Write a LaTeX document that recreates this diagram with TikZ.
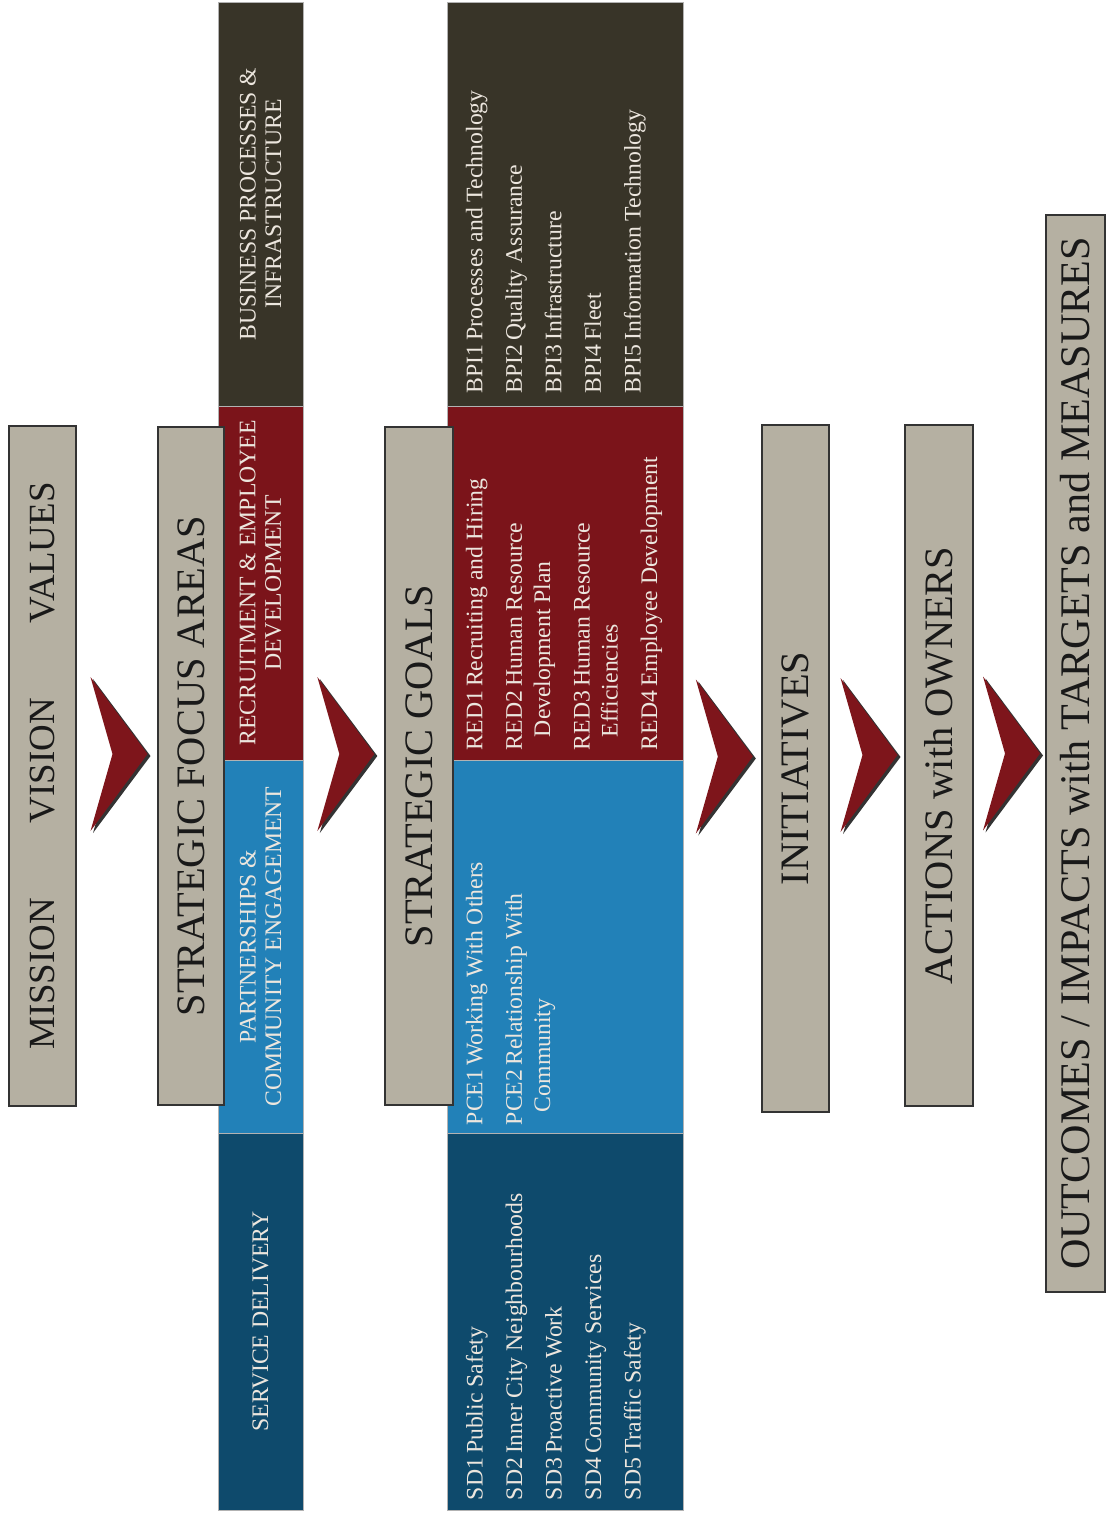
\documentclass[tikz,border=0pt]{standalone}
\usepackage{fontspec}
\setmainfont{Liberation Serif}
\usetikzlibrary{calc}
\definecolor{boxgray}{RGB}{181,176,162}
\definecolor{colbpi}{RGB}{56,52,40}
\definecolor{colred}{RGB}{123,20,26}
\definecolor{colpce}{RGB}{34,129,184}
\definecolor{colsd}{RGB}{14,74,108}
\definecolor{chevred}{RGB}{126,21,27}
\definecolor{txtlight}{RGB}{236,230,222}

\begin{document}
\begin{tikzpicture}[x=0.02cm,y=-0.02cm,line join=miter,every node/.style={inner sep=0pt},
  gbox/.style={draw=black!80,line width=0.85pt,fill=boxgray,rotate=90,text=black!90,font=\fontsize{23}{26}\selectfont},
  area/.style={draw=gray!60,line width=0.5pt,rotate=90,text=txtlight,align=center,font=\fontsize{13.5}{14.5}\selectfont},
  goals/.style={rotate=90,anchor=north west,align=left,text=txtlight,font=\fontsize{13.5}{16}\selectfont},
  chev/.pic={
    \fill[black!80] (-26,-75) -- (31.5,2) -- (-26,79) -- (-4,2) -- cycle;
    \fill[chevred] (-28.5,-77) -- (28.5,0) -- (-28.5,77) -- (-6.5,0) -- cycle;
  }]
  \def\px{0.02cm}
  \useasboundingbox (0,0) rectangle (1109,1520);
  \node[area,fill=colbpi,minimum width=404*\px,minimum height=85*\px] (fbpi) at (260.5,204) {BUSINESS PROCESSES \&\\INFRASTRUCTURE};
  \node[area,fill=colred,minimum width=354*\px,minimum height=85*\px] (fred) at (260.5,583) {RECRUITMENT \& EMPLOYEE\\DEVELOPMENT};
  \node[area,fill=colpce,minimum width=373*\px,minimum height=85*\px] (fpce) at (260.5,946.5) {PARTNERSHIPS \&\\COMMUNITY ENGAGEMENT};
  \node[area,fill=colsd,minimum width=377*\px,minimum height=85*\px] (fsd) at (260.5,1321.5) {SERVICE DELIVERY};
  \node[area,fill=colbpi,minimum width=404*\px,minimum height=236*\px] (gbpi) at (565,204) {};
  \node[area,fill=colred,minimum width=354*\px,minimum height=236*\px] (gred) at (565,583) {};
  \node[area,fill=colpce,minimum width=373*\px,minimum height=236*\px] (gpce) at (565,946.5) {};
  \node[area,fill=colsd,minimum width=377*\px,minimum height=236*\px] (gsd) at (565,1321.5) {};
  \node[goals] (lbpi) at ($(gbpi.north west)+(19,-13)$) {BPI1\,Processes and Technology\\[6.5pt]BPI2\,Quality Assurance\\[6.5pt]BPI3\,Infrastructure\\[6.5pt]BPI4\,Fleet\\[6.5pt]BPI5\,Information Technology};
  \node[goals] (lred) at ($(gred.north west)+(19,-10)$) {RED1\,Recruiting and Hiring\\[6.5pt]RED2\,Human Resource\\\hspace*{0.55em}Development Plan\\[6.5pt]RED3\,Human Resource\\\hspace*{0.55em}Efficiencies\\[6.5pt]RED4\,Employee Development};
  \node[goals] (lpce) at ($(gpce.north west)+(19,-8)$) {PCE1\,Working With Others\\[6.5pt]PCE2\,Relationship With\\\hspace*{0.55em}Community};
  \node[goals] (lsd) at ($(gsd.north west)+(19,-10)$) {SD1\,Public Safety\\[6.5pt]SD2\,Inner City Neighbourhoods\\[6.5pt]SD3\,Proactive Work\\[6.5pt]SD4\,Community Services\\[6.5pt]SD5\,Traffic Safety};
  \node[gbox,minimum width=680*\px,minimum height=67*\px,font=\fontsize{21}{24}\selectfont] (mvv) at (42.5,766) {MISSION\hspace{1.5cm}VISION\hspace{1.5cm}VALUES};
  \node[gbox,minimum width=678*\px,minimum height=66*\px] (sfa) at (191,766) {STRATEGIC FOCUS AREAS};
  \node[gbox,minimum width=678*\px,minimum height=68*\px] (sg) at (419,766) {STRATEGIC GOALS};
  \node[gbox,minimum width=687*\px,minimum height=67*\px] (init) at (795.5,768.5) {INITIATIVES};
  \node[gbox,minimum width=681*\px,minimum height=68*\px] (act) at (939,765.5) {ACTIONS with OWNERS};
  \node[gbox,minimum width=1077*\px,minimum height=59*\px,font=\fontsize{24}{27}\selectfont] (out) at (1075.5,753.5) {OUTCOMES / IMPACTS with TARGETS and MEASURES};
  \pic at ($(mvv.south)!.5!(sfa.north)+(2,-12)$) {chev};
  \pic at ($(fred.south |- sg.north)!.5!(sg.north)+(2,-12)$) {chev};
  \pic at ($(gred.south |- init.north)!.5!(init.north)+(2,-12)$) {chev};
  \pic at ($(init.south)!.5!(act.north)+(2,-12)$) {chev};
  \pic at ($(act.south)!.5!(out.north |- act.south)+(2,-12)$) {chev};
\end{tikzpicture}
\end{document}
